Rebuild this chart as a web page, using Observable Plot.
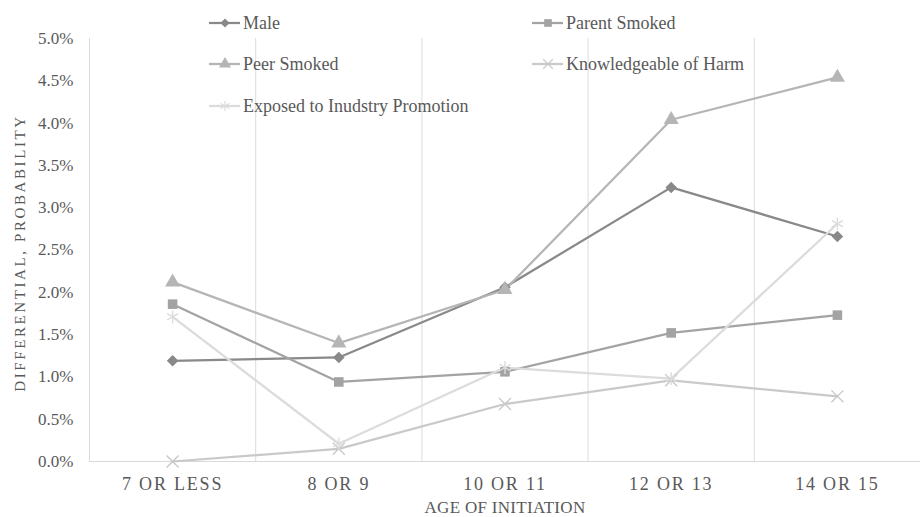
<!DOCTYPE html>
<html><head><meta charset="utf-8">
<script src="https://cdn.jsdelivr.net/npm/d3@7"></script>
<script src="https://cdn.jsdelivr.net/npm/@observablehq/plot@0.6"></script>
<style>
body{margin:0;background:#fff;}
#wrap{position:relative;width:920px;height:517px;overflow:hidden;font-family:"Liberation Serif","DejaVu Serif",serif;color:#595959;}
#wrap > svg{position:absolute;left:0;top:0;}
#wrap svg text{font-family:"Liberation Serif","DejaVu Serif",serif;}
.leg{position:absolute;display:flex;align-items:center;font-size:18px;line-height:1;white-space:nowrap;color:#595959;}
.leg svg{display:block;margin-right:2px;}
.ytitle{position:absolute;left:20px;top:253px;transform:translate(-50%,-50%) rotate(-90deg);font-size:15px;letter-spacing:2.6px;white-space:nowrap;line-height:1;}
.xtitle{position:absolute;left:505px;top:499px;transform:translateX(-50%);font-size:17px;letter-spacing:0.3px;white-space:nowrap;line-height:1;}
[aria-label="x-axis tick label"] text{font-size:18px;letter-spacing:1.8px;}
</style></head><body>
<div id="wrap"></div>
<script>
// ---- data ----
const categories = ["7 OR LESS", "8 OR 9", "10 OR 11", "12 OR 13", "14 OR 15"];
const seriesNames = ["Male", "Parent Smoked", "Peer Smoked", "Knowledgeable of Harm", "Exposed to Inudstry Promotion"];
const male          = [1.19, 1.23, 2.06, 3.24, 2.66];
const parentSmoked  = [1.86, 0.94, 1.06, 1.52, 1.73];
const peerSmoked    = [2.12, 1.40, 2.03, 4.04, 4.54];
const knowledgeable = [0.00, 0.15, 0.68, 0.96, 0.77];
const exposed       = [1.71, 0.21, 1.11, 0.98, 2.81];
const yTicks = [0, 0.5, 1, 1.5, 2, 2.5, 3, 3.5, 4, 4.5, 5];
const yTitle = "DIFFERENTIAL, PROBABILITY";
const xTitle = "AGE OF INITIATION";

// ---- styles ----
const seriesValues = [male, parentSmoked, peerSmoked, knowledgeable, exposed];
const colors  = ["#898989", "#a3a3a3", "#b5b5b5", "#c9c9c9", "#dcdcdc"];
// square-rotated diamond, like the spreadsheet marker
const squareDiamond = {
  draw(context, size) {
    const h = Math.sqrt(size / 2);
    context.moveTo(0, -h); context.lineTo(h, 0); context.lineTo(0, h); context.lineTo(-h, 0); context.closePath();
  }
};
const symbols = [squareDiamond, d3.symbolSquare, d3.symbolTriangle, d3.symbolTimes, d3.symbolAsterisk];
const filled  = [true, true, true, false, false];
const radii   = [4.6, 5.4, 5.6, 5.5, 6];

const rows = seriesNames.flatMap((name, s) =>
  seriesValues[s].map((v, i) => ({series: name, s, i, v})));
const boundaries = d3.range(categories.length).map(i => i - 0.5);

const marks = [
  Plot.ruleX(boundaries, {stroke: "#dcdcdc", strokeWidth: 1}),
  Plot.ruleY([0], {stroke: "#d9d9d9", strokeWidth: 1})
];
seriesNames.forEach((name, s) => {
  const d = rows.filter(r => r.s === s);
  marks.push(Plot.line(d, {x: "i", y: "v", stroke: colors[s], strokeWidth: 2.25}));
});
seriesNames.forEach((name, s) => {
  const d = rows.filter(r => r.s === s);
  marks.push(Plot.dot(d, filled[s]
    ? {x: "i", y: "v", symbol: symbols[s], r: radii[s], fill: colors[s], stroke: "none"}
    : {x: "i", y: "v", symbol: symbols[s], r: radii[s], stroke: colors[s], strokeWidth: 1.4, fill: "none"}));
});

const chart = Plot.plot({
  width: 920,
  height: 517,
  marginLeft: 89,
  marginRight: 0,
  marginTop: 38,
  marginBottom: 56,
  style: {fontFamily: "'Liberation Serif','DejaVu Serif',serif", fontSize: "17px", color: "#595959", background: "#fff"},
  x: {type: "linear", domain: [-0.5, categories.length - 0.5], ticks: d3.range(categories.length),
      tickFormat: i => categories[i], tickSize: 0, tickPadding: 16, label: null},
  y: {domain: [0, 5], ticks: yTicks, tickFormat: d => d.toFixed(1) + "%", tickSize: 0, tickPadding: 16, label: null},
  marks
});

const wrap = document.getElementById("wrap");
wrap.appendChild(chart);

// titles
const yt = document.createElement("div"); yt.className = "ytitle"; yt.textContent = yTitle; wrap.appendChild(yt);
const xt = document.createElement("div"); xt.className = "xtitle"; xt.textContent = xTitle; wrap.appendChild(xt);

// legend
const legendPos = [[209, 23], [532, 23], [209, 64], [532, 64], [209, 106]];
seriesNames.forEach((name, s) => {
  const item = document.createElement("div");
  item.className = "leg";
  item.style.left = legendPos[s][0] + "px";
  item.style.top = (legendPos[s][1] - 10) + "px";
  item.style.height = "20px";
  const svg = d3.create("svg").attr("width", 32).attr("height", 20);
  svg.append("line").attr("x1", 0).attr("x2", 31).attr("y1", 10).attr("y2", 10)
    .attr("stroke", colors[s]).attr("stroke-width", 2.25);
  const size = Math.PI * (radii[s] * 0.8) ** 2;
  const p = svg.append("path").attr("transform", "translate(16,10)")
    .attr("d", d3.symbol(symbols[s], size)());
  if (filled[s]) p.attr("fill", colors[s]); else p.attr("fill", "none").attr("stroke", colors[s]).attr("stroke-width", 1.2);
  item.appendChild(svg.node());
  const t = document.createElement("span"); t.textContent = name; item.appendChild(t);
  wrap.appendChild(item);
});
</script>
</body></html>
